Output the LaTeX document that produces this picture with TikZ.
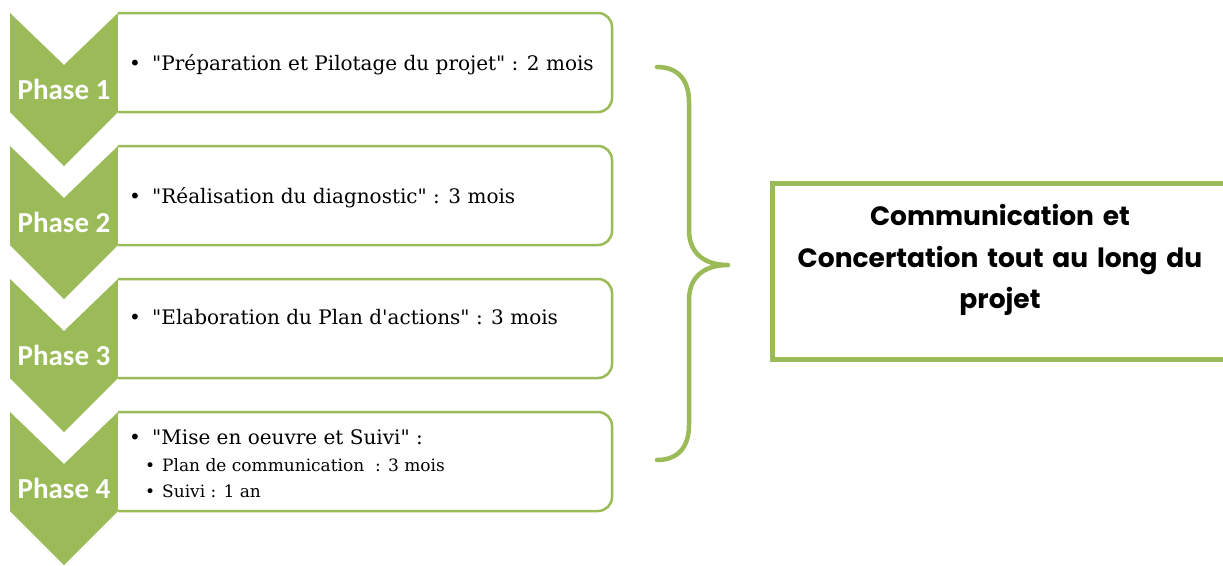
\documentclass[tikz,border=0pt]{standalone}
\usepackage{fontspec}
\setmainfont{DejaVu Serif}
\newfontfamily\phasefont{Carlito}
\newfontfamily\popfont{Poppins}
\definecolor{pgreen}{HTML}{9BBB59}
\newcommand{\qq}{\textquotedbl}
\newcommand{\bul}[1]{\makebox[#1][l]{\textbullet}}
\begin{document}
\begin{tikzpicture}[x=1pt,y=-1pt,
  chev/.style={fill=pgreen,draw=none},
  phbox/.style={fill=white,draw=pgreen,line width=2.5pt,rounded corners=14pt},
  phlabel/.style={text=white,font=\phasefont\bfseries\fontsize{29}{32}\selectfont,inner sep=0pt},
  item/.style={anchor=base west,font=\fontsize{20}{24}\selectfont,inner sep=0pt},
  subitem/.style={anchor=base west,font=\fontsize{17}{20}\selectfont,inner sep=0pt},
  brace/.style={draw=pgreen,line width=4.5pt,line cap=round,line join=round},
  combox/.style={draw=pgreen,line width=5pt,fill=white},
  comtext/.style={font=\popfont\bfseries\fontsize{26.5}{41.5}\selectfont,align=center,text width=450pt}
]
\useasboundingbox (0,0) rectangle (1223,565);
\foreach \k in {0,1,2,3}{
  \pgfmathsetmacro{\dy}{133*\k}
  \fill[chev] (10,13+\dy) -- (64,65+\dy) -- (118,13+\dy) -- (118,112+\dy) -- (64,166+\dy) -- (10,112+\dy) -- cycle;
  \draw[phbox] (118,13+\dy) -- (612,13+\dy) -- (612,112+\dy) -- (118,112+\dy);
}
\node[phlabel] (ph1) at (64,89) {Phase 1};
\node[phlabel] (ph2) at (64,222) {Phase 2};
\node[phlabel] (ph3) at (64,355) {Phase 3};
\node[phlabel] (ph4) at (64,488) {Phase 4};
\node[item] (t1) at (129,70) {\bul{23pt}\qq Préparation et Pilotage du projet\qq\ : 2 mois};
\node[item] (t2) at (129,203) {\bul{23pt}\qq Réalisation du diagnostic\qq\ : 3 mois};
\node[item] (t3) at (129,324) {\bul{23pt}\qq Elaboration du Plan d\textquotesingle actions\qq\ : 3 mois};
\node[item] (t4a) at (129,444) {\bul{23pt}\qq Mise en oeuvre et Suivi\qq\ :};
\node[subitem] (t4b) at (145,471) {\bul{17pt}Plan de communication\ \ : 3 mois};
\node[subitem] (t4c) at (145,497) {\bul{17pt}Suivi : 1 an};
\coordinate (bt) at (657,67);
\coordinate (bm) at (728,265);
\coordinate (bb) at (657,460);
\draw[brace] (bt) .. controls (678,67) and (689,80) .. (689,102) -- (689,230)
  .. controls (689,252) and (703,265) .. (bm)
  .. controls (703,265) and (689,278) .. (689,300) -- (689,425)
  .. controls (689,447) and (678,460) .. (bb);
\draw[combox] (772,183) rectangle (1240,359);
\node[comtext] (com) at (1000,260) {Communication et\\Concertation tout au long du\\projet};
\end{tikzpicture}
\end{document}
